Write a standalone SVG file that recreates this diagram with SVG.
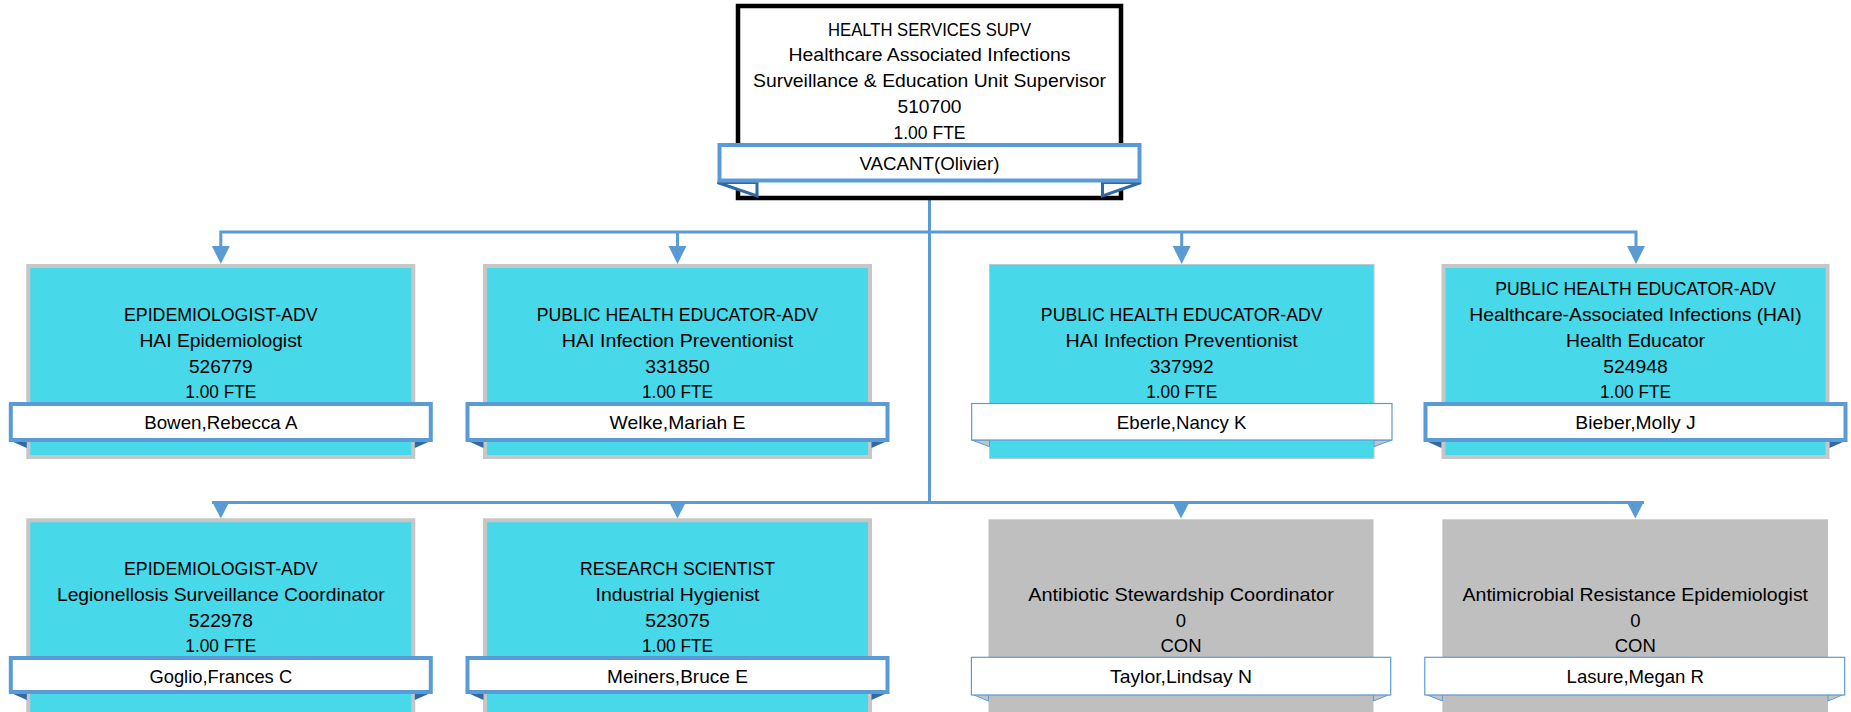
<svg xmlns="http://www.w3.org/2000/svg" width="1851" height="712" viewBox="0 0 1851 712">
<style>
.t{font-family:"Liberation Sans",Arial,sans-serif;font-size:18.5px;fill:#000;text-anchor:middle}
.cy{fill:#47d8ea;stroke:#c6c6c6;stroke-width:4}
.cyt{fill:#47d8ea;stroke:#b9c9d6;stroke-width:1}
.gr{fill:#bfbfbf}
.bn{fill:#fff;stroke:#5b9bd5;stroke-width:4}
.bnt{fill:#fff;stroke:#5b9bd5;stroke-width:1.2}
.fl{fill:#2f6aa6}
.flt{fill:#c4c4c4;stroke:#5b9bd5;stroke-width:1}
.cn{fill:none;stroke:#5b9bd5;stroke-width:3}
.ah{fill:#5b9bd5}
</style>
<rect width="1851" height="712" fill="#fff"/>

<g id="connectors">
<path class="cn" d="M929.5,200 V502.5"/>
<path class="cn" d="M220.8,247 V232 H1636 V247 M677.5,232 V247 M1181.7,232 V247"/>
<path class="cn" d="M212,502.5 H1644"/>
<polygon class="ah" points="211.8,246 229.8,246 220.8,264"/>
<polygon class="ah" points="668.5,246 686.5,246 677.5,264"/>
<polygon class="ah" points="1172.7,246 1190.7,246 1181.7,264"/>
<polygon class="ah" points="1627,246 1645,246 1636,264"/>
<polygon class="ah" points="211.8,501 229.8,501 220.8,518.5"/>
<polygon class="ah" points="668.5,501 686.5,501 677.5,518.5"/>
<polygon class="ah" points="1172,501 1190,501 1181,518.5"/>
<polygon class="ah" points="1626.3,501 1644.3,501 1635.3,518.5"/>
</g>

<g id="n-supv">
<rect x="738" y="6" width="383" height="192" fill="#fff" stroke="#000" stroke-width="4.5"/>
<text class="t" x="929.5" y="35.5" textLength="203" lengthAdjust="spacingAndGlyphs">HEALTH SERVICES SUPV</text>
<text class="t" x="929.5" y="61.3" textLength="282" lengthAdjust="spacingAndGlyphs">Healthcare Associated Infections</text>
<text class="t" x="929.5" y="87.1" textLength="353" lengthAdjust="spacingAndGlyphs">Surveillance &amp; Education Unit Supervisor</text>
<text class="t" x="929.5" y="112.9" textLength="64" lengthAdjust="spacingAndGlyphs">510700</text>
<text class="t" x="929.5" y="138.7" textLength="72" lengthAdjust="spacingAndGlyphs">1.00 FTE</text>
<polygon points="717.5,182.5 757,196 757,182.5" fill="#fff" stroke="#2f6aa6" stroke-width="3"/>
<polygon points="1141,182.5 1102.5,196 1102.5,182.5" fill="#fff" stroke="#2f6aa6" stroke-width="3"/>
<rect class="bn" x="719.5" y="145" width="420" height="35.5"/>
<text class="t" x="929.5" y="170" textLength="140" lengthAdjust="spacingAndGlyphs">VACANT(Olivier)</text>
</g>

<g id="n-bowen">
<rect class="cy" x="28.3" y="266" width="385" height="191"/>
<text class="t" x="220.8" y="321.1" textLength="193.7" lengthAdjust="spacingAndGlyphs">EPIDEMIOLOGIST-ADV</text>
<text class="t" x="220.8" y="346.9" textLength="162.7" lengthAdjust="spacingAndGlyphs">HAI Epidemiologist</text>
<text class="t" x="220.8" y="372.6" textLength="63.7" lengthAdjust="spacingAndGlyphs">526779</text>
<text class="t" x="220.8" y="398.4" textLength="71" lengthAdjust="spacingAndGlyphs">1.00 FTE</text>
<polygon class="fl" points="8.8,440 26.8,440 26.8,448"/>
<polygon class="fl" points="432.8,440 414.8,440 414.8,448"/>
<rect class="bn" x="10.8" y="404" width="420" height="36"/>
<text class="t" x="220.8" y="429.3" textLength="153.3" lengthAdjust="spacingAndGlyphs">Bowen,Rebecca A</text>
</g>

<g id="n-welke">
<rect class="cy" x="485" y="266" width="385" height="191"/>
<text class="t" x="677.5" y="321.1" textLength="281.3" lengthAdjust="spacingAndGlyphs">PUBLIC HEALTH EDUCATOR-ADV</text>
<text class="t" x="677.5" y="346.9" textLength="231.3" lengthAdjust="spacingAndGlyphs">HAI Infection Preventionist</text>
<text class="t" x="677.5" y="372.6" textLength="64.7" lengthAdjust="spacingAndGlyphs">331850</text>
<text class="t" x="677.5" y="398.4" textLength="71" lengthAdjust="spacingAndGlyphs">1.00 FTE</text>
<polygon class="fl" points="465.5,440 483.5,440 483.5,448"/>
<polygon class="fl" points="889.5,440 871.5,440 871.5,448"/>
<rect class="bn" x="467.5" y="404" width="420" height="36"/>
<text class="t" x="677.5" y="429.3" textLength="136" lengthAdjust="spacingAndGlyphs">Welke,Mariah E</text>
</g>

<g id="n-eberle">
<rect class="cyt" x="989.5" y="264.5" width="384.5" height="194"/>
<text class="t" x="1181.7" y="321.1" textLength="281.7" lengthAdjust="spacingAndGlyphs">PUBLIC HEALTH EDUCATOR-ADV</text>
<text class="t" x="1181.7" y="346.9" textLength="232.3" lengthAdjust="spacingAndGlyphs">HAI Infection Preventionist</text>
<text class="t" x="1181.7" y="372.6" textLength="64" lengthAdjust="spacingAndGlyphs">337992</text>
<text class="t" x="1181.7" y="398.4" textLength="71" lengthAdjust="spacingAndGlyphs">1.00 FTE</text>
<polygon class="flt" points="971.7,440 989.5,440 989.5,446.7"/>
<polygon class="flt" points="1392,440 1374,440 1374,446.7"/>
<rect class="bnt" x="971.7" y="403.5" width="420.3" height="36.5"/>
<text class="t" x="1181.7" y="429.3" textLength="129.7" lengthAdjust="spacingAndGlyphs">Eberle,Nancy K</text>
</g>

<g id="n-bieber">
<rect class="cy" x="1443.5" y="266" width="384" height="191"/>
<text class="t" x="1635.5" y="295.4" textLength="280.7" lengthAdjust="spacingAndGlyphs">PUBLIC HEALTH EDUCATOR-ADV</text>
<text class="t" x="1635.5" y="321.1" textLength="332.3" lengthAdjust="spacingAndGlyphs">Healthcare-Associated Infections (HAI)</text>
<text class="t" x="1635.5" y="346.9" textLength="139" lengthAdjust="spacingAndGlyphs">Health Educator</text>
<text class="t" x="1635.5" y="372.6" textLength="64.7" lengthAdjust="spacingAndGlyphs">524948</text>
<text class="t" x="1635.5" y="398.4" textLength="71" lengthAdjust="spacingAndGlyphs">1.00 FTE</text>
<polygon class="fl" points="1423.5,440 1441.5,440 1441.5,448"/>
<polygon class="fl" points="1847.5,440 1829.5,440 1829.5,448"/>
<rect class="bn" x="1425.5" y="404" width="420" height="36"/>
<text class="t" x="1635.5" y="429.3" textLength="120.3" lengthAdjust="spacingAndGlyphs">Bieber,Molly J</text>
</g>

<g id="n-goglio">
<rect class="cy" x="28.3" y="520.3" width="385" height="200"/>
<text class="t" x="220.8" y="575.1" textLength="193.7" lengthAdjust="spacingAndGlyphs">EPIDEMIOLOGIST-ADV</text>
<text class="t" x="220.8" y="600.9" textLength="327.7" lengthAdjust="spacingAndGlyphs">Legionellosis Surveillance Coordinator</text>
<text class="t" x="220.8" y="626.6" textLength="64" lengthAdjust="spacingAndGlyphs">522978</text>
<text class="t" x="220.8" y="652.4" textLength="71" lengthAdjust="spacingAndGlyphs">1.00 FTE</text>
<polygon class="fl" points="8.8,692 26.8,692 26.8,700"/>
<polygon class="fl" points="432.8,692 414.8,692 414.8,700"/>
<rect class="bn" x="10.8" y="658" width="420" height="34"/>
<text class="t" x="220.8" y="683.3" textLength="142.7" lengthAdjust="spacingAndGlyphs">Goglio,Frances C</text>
</g>

<g id="n-meiners">
<rect class="cy" x="485" y="520.3" width="385" height="200"/>
<text class="t" x="677.5" y="575.1" textLength="195" lengthAdjust="spacingAndGlyphs">RESEARCH SCIENTIST</text>
<text class="t" x="677.5" y="600.9" textLength="164" lengthAdjust="spacingAndGlyphs">Industrial Hygienist</text>
<text class="t" x="677.5" y="626.6" textLength="64.5" lengthAdjust="spacingAndGlyphs">523075</text>
<text class="t" x="677.5" y="652.4" textLength="71" lengthAdjust="spacingAndGlyphs">1.00 FTE</text>
<polygon class="fl" points="465.5,692 483.5,692 483.5,700"/>
<polygon class="fl" points="889.5,692 871.5,692 871.5,700"/>
<rect class="bn" x="467.5" y="658" width="420" height="34"/>
<text class="t" x="677.5" y="683.3" textLength="141" lengthAdjust="spacingAndGlyphs">Meiners,Bruce E</text>
</g>

<g id="n-taylor">
<rect class="gr" x="988.5" y="519.3" width="385" height="200"/>
<text class="t" x="1181" y="600.9" textLength="305.7" lengthAdjust="spacingAndGlyphs">Antibiotic Stewardship Coordinator</text>
<text class="t" x="1181" y="626.6">0</text>
<text class="t" x="1181" y="652.4">CON</text>
<polygon class="flt" points="971.4,694 988.5,694 988.5,701"/>
<polygon class="flt" points="1390.7,694 1373.5,694 1373.5,701"/>
<rect class="bnt" x="971.4" y="657.3" width="419.3" height="37.7"/>
<text class="t" x="1181" y="683.3" textLength="142" lengthAdjust="spacingAndGlyphs">Taylor,Lindsay N</text>
</g>

<g id="n-lasure">
<rect class="gr" x="1442.4" y="519.3" width="385.6" height="200"/>
<text class="t" x="1635.3" y="600.9" textLength="345.5" lengthAdjust="spacingAndGlyphs">Antimicrobial Resistance Epidemiologist</text>
<text class="t" x="1635.3" y="626.6">0</text>
<text class="t" x="1635.3" y="652.4">CON</text>
<polygon class="flt" points="1424.8,694 1442.4,694 1442.4,701"/>
<polygon class="flt" points="1844.7,694 1828,694 1828,701"/>
<rect class="bnt" x="1424.8" y="657.3" width="419.9" height="37.7"/>
<text class="t" x="1635.3" y="683.3" textLength="137.5" lengthAdjust="spacingAndGlyphs">Lasure,Megan R</text>
</g>
</svg>
